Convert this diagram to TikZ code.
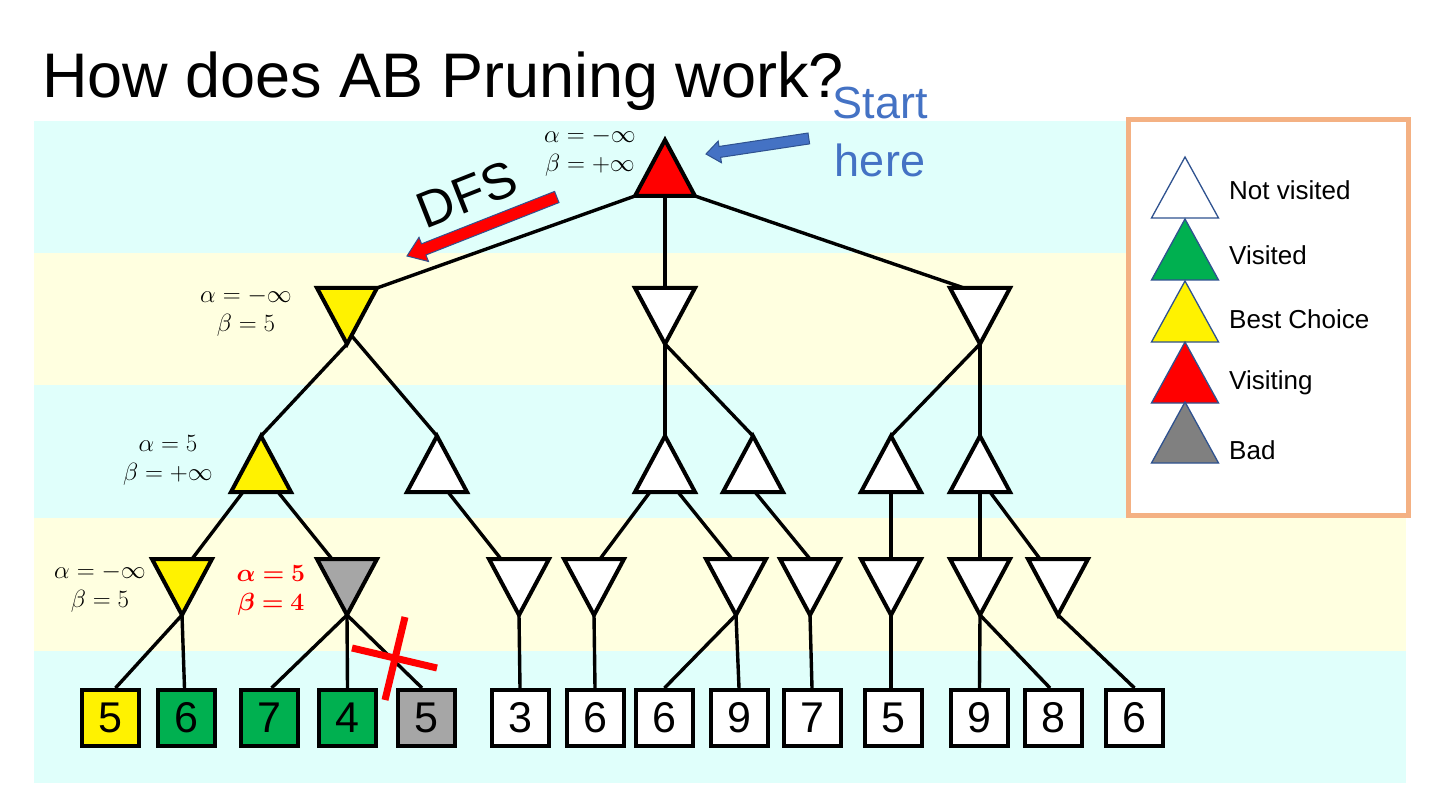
\documentclass[tikz,border=0pt]{standalone}
\usepackage[no-math]{fontspec}
\setmainfont{Liberation Sans}
\usepackage{amsmath,bm}
\usetikzlibrary{calc}
\definecolor{bandc}{RGB}{224,255,251}
\definecolor{bandy}{RGB}{255,255,224}
\definecolor{legbox}{RGB}{244,177,131}
\definecolor{startblue}{RGB}{68,114,196}
\definecolor{outlineblue}{RGB}{47,82,143}
\definecolor{vgreen}{RGB}{0,176,80}
\definecolor{badgray}{RGB}{166,166,166}
\definecolor{leggray}{RGB}{128,128,128}
\newcommand\UpTri[3]{\path (#2,#3) coordinate (#1-t) ++(-30,56) coordinate (#1-l) ++(60,0) coordinate (#1-r) ++(-30,0) coordinate (#1-b);}
\newcommand\DnTri[3]{\path (#2,#3) coordinate (#1-t) ++(-30,0) coordinate (#1-l) ++(60,0) coordinate (#1-r) ++(-30,56) coordinate (#1-b);}
\newcommand\DrawUp[2]{\draw[tri,fill=#2] (#1-t) -- (#1-l) -- (#1-r) -- cycle;}
\newcommand\DrawDn[2]{\draw[tri,fill=#2] (#1-l) -- (#1-r) -- (#1-b) -- cycle;}
\begin{document}
\begin{tikzpicture}[x=1pt,y=-1pt,
  tri/.style={draw=black,line width=4pt,line join=miter},
  edge/.style={draw=black,line width=3.4pt},
  leaf/.style={draw=black,line width=4pt,minimum width=57pt,minimum height=56pt,inner sep=0pt,font=\fontsize{43}{43}\selectfont},
  legtri/.style={draw=outlineblue,line width=1.3pt,line join=miter},
  legtxt/.style={anchor=west,inner sep=0pt,font=\fontsize{26}{30}\selectfont},
  ab/.style={align=center,inner sep=0pt,font=\fontsize{25.5}{29}\selectfont}]
\useasboundingbox (0,0) rectangle (1440,810);
\fill[white] (0,0) rectangle (1440,810);
% bands
\fill[bandc] (34,121) rectangle (1406,253);
\fill[bandy] (34,253) rectangle (1406,385);
\fill[bandc] (34,385) rectangle (1406,518);
\fill[bandy] (34,518) rectangle (1406,651);
\fill[bandc] (34,651) rectangle (1406,783);
% title
\node[anchor=base west,inner sep=0pt,font=\fontsize{63}{63}\selectfont] (title) at (42,98) {How does AB Pruning work?};
\node[align=center,inner sep=0pt,text=startblue,font=\fontsize{45}{58}\selectfont] (start) at (880,132) {Start\\here};
% legend
\node[draw=legbox,line width=5pt,fill=white,minimum width=279.5pt,minimum height=396pt,inner sep=0pt] (legend) at (1268.25,317.5) {};
\foreach \ay/\col/\txt/\ty in {157/white/Not visited/190, 219/vgreen/Visited/255, 281/yellow/Best Choice/319, 342/red/Visiting/383, 402/leggray/Bad/450}{
  \path (1185,\ay) coordinate (lt) ++(-33.5,61) coordinate (ll) ++(67,0) coordinate (lr);
  \draw[legtri,fill=\col] (lt) -- (ll) -- (lr) -- cycle;
  \node[legtxt] at (1229,\ty) {\txt};
}
% tree coordinates
\UpTri{root}{665}{140}
\DnTri{A}{347}{288} \DnTri{B}{665}{288} \DnTri{C}{980}{288}
\UpTri{P1}{261}{436} \UpTri{P2}{437}{436} \UpTri{P3}{665}{436}
\UpTri{P4}{753}{436} \UpTri{P5}{891}{436} \UpTri{P6}{980}{436}
\DnTri{Q1}{182}{559} \DnTri{Q2}{347}{559} \DnTri{Q3}{519}{559}
\DnTri{Q4}{594}{559} \DnTri{Q5}{736}{559} \DnTri{Q6}{810}{559}
\DnTri{Q7}{891}{559} \DnTri{Q8}{980}{559} \DnTri{Q9}{1058}{559}
% leaves
\node[leaf,fill=yellow] (lf1) at (110.5,718) {5};
\node[leaf,fill=vgreen] (lf2) at (186.5,718) {6};
\node[leaf,fill=vgreen] (lf3) at (269.5,718) {7};
\node[leaf,fill=vgreen] (lf4) at (347.5,718) {4};
\node[leaf,fill=badgray] (lf5) at (426,718) {5};
\node[leaf,fill=white] (lf6) at (520,718) {3};
\node[leaf,fill=white] (lf7) at (595,718) {6};
\node[leaf,fill=white] (lf8) at (664.5,718) {6};
\node[leaf,fill=white] (lf9) at (739,718) {9};
\node[leaf,fill=white] (lf10) at (812,718) {7};
\node[leaf,fill=white] (lf11) at (893.5,718) {5};
\node[leaf,fill=white] (lf12) at (979.5,718) {9};
\node[leaf,fill=white] (lf13) at (1053,718) {8};
\node[leaf,fill=white] (lf14) at (1134.5,718) {6};
% edges
\draw[edge] (root-l) -- (A-r);
\draw[edge] (root-b) -- (B-t);
\draw[edge] (root-r) -- ([xshift=14pt]C-l);
\draw[edge] (A-b) -- (P1-t);
\draw[edge] ($(A-b)!0.15!(A-r)$) -- (P2-t);
\draw[edge] (B-b) -- (P3-t);
\draw[edge] (B-b) -- (P4-t);
\draw[edge] (C-b) -- (P5-t);
\draw[edge] (C-b) -- (P6-t);
\draw[edge] ([xshift=-18pt]P1-b) -- ([xshift=10pt]Q1-t);
\draw[edge] ([xshift=17pt]P1-b) -- ([xshift=-15pt]Q2-t);
\draw[edge] ([xshift=11pt]P2-b) -- ([xshift=-18pt]Q3-t);
\draw[edge] ([xshift=-15pt]P3-b) -- ([xshift=6pt]Q4-t);
\draw[edge] ([xshift=13pt]P3-b) -- ([xshift=-4pt]Q5-t);
\draw[edge] ([xshift=2pt]P4-b) -- (Q6-t);
\draw[edge] (P5-b) -- (Q7-t);
\draw[edge] (P6-b) -- (Q8-t);
\draw[edge] ([xshift=10pt]P6-b) -- ([xshift=-18pt]Q9-t);
\draw[edge] (Q1-b) -- ([xshift=5pt]lf1.north);
\draw[edge] (Q1-b) -- ([xshift=-2pt]lf2.north);
\draw[edge] (Q2-b) -- ([xshift=2pt]lf3.north);
\draw[edge] (Q2-b) -- (lf4.north);
\draw[edge] (Q2-b) -- ([xshift=-4pt]lf5.north);
\draw[edge] (Q3-b) -- (lf6.north);
\draw[edge] (Q4-b) -- (lf7.north);
\draw[edge] (Q5-b) -- (lf8.north);
\draw[edge] (Q5-b) -- (lf9.north);
\draw[edge] (Q6-b) -- (lf10.north);
\draw[edge] (Q7-b) -- ([xshift=-2.5pt]lf11.north);
\draw[edge] (Q8-b) -- (lf12.north);
\draw[edge] (Q8-b) -- ([xshift=-3pt]lf13.north);
\draw[edge] (Q9-b) -- (lf14.north);
% triangles
\DrawUp{root}{red}
\DrawDn{A}{yellow} \DrawDn{B}{white} \DrawDn{C}{white}
\DrawUp{P1}{yellow} \DrawUp{P2}{white} \DrawUp{P3}{white}
\DrawUp{P4}{white} \DrawUp{P5}{white} \DrawUp{P6}{white}
\DrawDn{Q1}{yellow} \DrawDn{Q2}{badgray} \DrawDn{Q3}{white}
\DrawDn{Q4}{white} \DrawDn{Q5}{white} \DrawDn{Q6}{white}
\DrawDn{Q7}{white} \DrawDn{Q8}{white} \DrawDn{Q9}{white}
% alpha beta labels
\node[ab] (abroot) at (590,152) {$\alpha=-\infty$\\$\beta=+\infty$};
\node[ab] (abA) at (246,312) {$\alpha=-\infty$\\$\beta=5$};
\node[ab] (abP1) at (168,460) {$\alpha=5$\\$\beta=+\infty$};
\node[ab] (abQ1) at (100,588) {$\alpha=-\infty$\\$\beta=5$};
\node[ab,text=red] (abQ2) at (271,590) {$\bm{\alpha=5}$\\$\bm{\beta=4}$};
% arrows
\begin{scope}[shift={(706,154)},rotate=8.6]
  \draw[fill=startblue,draw=outlineblue,line width=1pt] (0,0) -- (14,11) -- (14,5.5) -- (104,5.5) -- (104,-5.5) -- (14,-5.5) -- (14,-11) -- cycle;
\end{scope}
\begin{scope}[shift={(407,256)},rotate=21.5]
  \draw[fill=red,draw=outlineblue,line width=1pt] (0,0) -- (18,13) -- (18,6) -- (161,6) -- (161,-6) -- (18,-6) -- (18,-13) -- cycle;
\end{scope}
\node[rotate=21.5,inner sep=0pt,font=\fontsize{51}{51}\selectfont] (dfs) at (467,194) {DFS};
% red cross
\draw[red,line width=7pt] (352,648) -- (437,668);
\draw[red,line width=7pt] (405,617) -- (385,700);
\end{tikzpicture}
\end{document}
